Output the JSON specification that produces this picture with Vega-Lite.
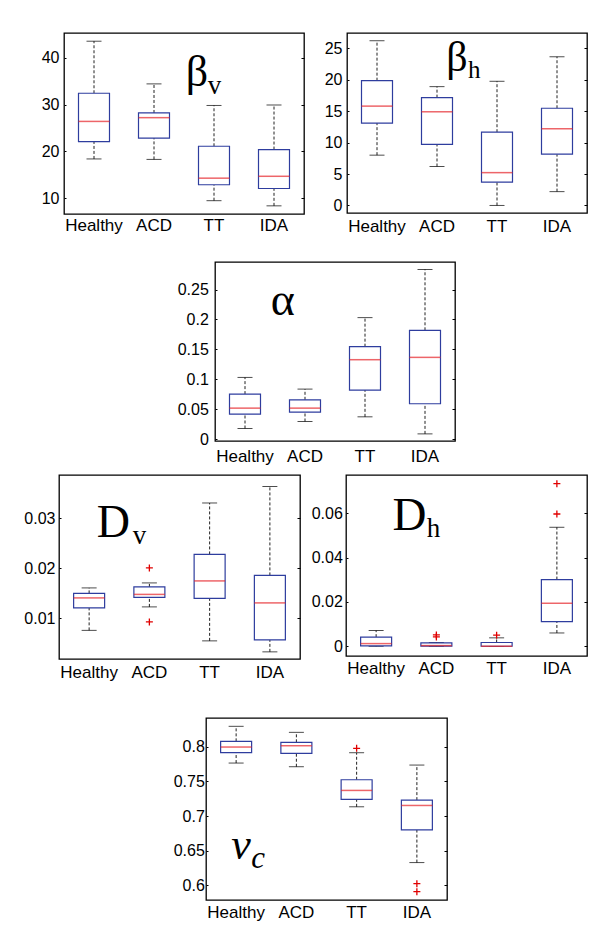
{
"$schema": "https://vega.github.io/schema/vega-lite/v6.json",
"background": "white",
"padding": {"left": 0, "top": 32, "right": 0, "bottom": 0},
"spacing": 0,
"datasets": {
"stats": [
{"p":"bv","cat":"Healthy","lo":18.4,"q1":22.1,"med":26.4,"q3":32.4,"hi":43.5},
{"p":"bv","cat":"ACD","lo":18.3,"q1":22.85,"med":27.2,"q3":28.2,"hi":34.4},
{"p":"bv","cat":"TT","lo":9.5,"q1":12.9,"med":14.3,"q3":21.1,"hi":29.8},
{"p":"bv","cat":"IDA","lo":8.4,"q1":12.1,"med":14.7,"q3":20.4,"hi":29.9},
{"p":"bh","cat":"Healthy","lo":8.0,"q1":13.1,"med":15.8,"q3":19.85,"hi":26.2},
{"p":"bh","cat":"ACD","lo":6.2,"q1":9.7,"med":14.9,"q3":17.15,"hi":18.9},
{"p":"bh","cat":"TT","lo":0,"q1":3.7,"med":5.22,"q3":11.65,"hi":19.75},
{"p":"bh","cat":"IDA","lo":2.2,"q1":8.15,"med":12.2,"q3":15.46,"hi":23.65},
{"p":"a","cat":"Healthy","lo":0.0179,"q1":0.0419,"med":0.0519,"q3":0.0753,"hi":0.1032},
{"p":"a","cat":"ACD","lo":0.0296,"q1":0.0452,"med":0.0519,"q3":0.0658,"hi":0.0837},
{"p":"a","cat":"TT","lo":0.0374,"q1":0.082,"med":0.1328,"q3":0.1546,"hi":0.2031},
{"p":"a","cat":"IDA","lo":0.0089,"q1":0.0592,"med":0.1367,"q3":0.1819,"hi":0.2835},
{"p":"dv","cat":"Healthy","lo":0.0076,"q1":0.0121,"med":0.0141,"q3":0.015,"hi":0.0161},
{"p":"dv","cat":"ACD","lo":0.0123,"q1":0.0142,"med":0.0148,"q3":0.0163,"hi":0.0171},
{"p":"dv","cat":"TT","lo":0.0055,"q1":0.014,"med":0.0175,"q3":0.0228,"hi":0.0331},
{"p":"dv","cat":"IDA","lo":0.0033,"q1":0.0057,"med":0.0131,"q3":0.0186,"hi":0.0364},
{"p":"dh","cat":"Healthy","lo":0,"q1":0.0002,"med":0.0012,"q3":0.0041,"hi":0.0071},
{"p":"dh","cat":"ACD","lo":0,"q1":0.0001,"med":0.0003,"q3":0.0015,"hi":0.0017},
{"p":"dh","cat":"TT","lo":0,"q1":0.0,"med":0.0,"q3":0.0017,"hi":0.0038},
{"p":"dh","cat":"IDA","lo":0.006,"q1":0.0111,"med":0.0194,"q3":0.0301,"hi":0.0537},
{"p":"vc","cat":"Healthy","lo":0.7764,"q1":0.7913,"med":0.7995,"q3":0.8077,"hi":0.8294},
{"p":"vc","cat":"ACD","lo":0.7711,"q1":0.7904,"med":0.8014,"q3":0.8063,"hi":0.8207},
{"p":"vc","cat":"TT","lo":0.7133,"q1":0.7239,"med":0.7369,"q3":0.7523,"hi":0.7913},
{"p":"vc","cat":"IDA","lo":0.6328,"q1":0.68,"med":0.7152,"q3":0.7229,"hi":0.7735}
],
"out": [
{"p":"dv","cat":"ACD","v":0.0201},
{"p":"dv","cat":"ACD","v":0.0093},
{"p":"dh","cat":"ACD","v":0.0051},
{"p":"dh","cat":"ACD","v":0.0042},
{"p":"dh","cat":"TT","v":0.005},
{"p":"dh","cat":"IDA","v":0.0734},
{"p":"dh","cat":"IDA","v":0.0597},
{"p":"vc","cat":"TT","v":0.7976},
{"p":"vc","cat":"IDA","v":0.6024},
{"p":"vc","cat":"IDA","v":0.5908}
],
"labels": [
{"p":"bv","m":"β","s":"v"},
{"p":"bh","m":"β","s":"h"},
{"p":"a","m":"α","s":""},
{"p":"dv","m":"D","s":"v"},
{"p":"dh","m":"D","s":"h"},
{"p":"vc","m":"v","s":"c"}
]
},
"vconcat": [
{"hconcat": [
{"width": 10, "height": 1, "data": {"values": []}, "mark": "point", "view": {"stroke": null}},
{
"width": 240, "height": 181,
"data": {"name": "stats"},
"transform": [{"filter": "datum.p === 'bv'"}],
"encoding": {"x": {"field": "cat", "type": "nominal", "scale": {"domain": ["Healthy","ACD","TT","IDA"], "paddingInner": 0, "paddingOuter": 0}, "axis": {"title": null, "labelPadding": 3.7, "minExtent": 46, "maxExtent": 46}}},
"layer": [
{"mark": {"type": "rule", "strokeDash": [3,2], "color": "#222", "strokeWidth": 1}, "encoding": {"y": {"field": "q3", "type": "quantitative", "scale": {"domain": [6.66,45.25], "nice": false, "zero": false}, "axis": null}, "y2": {"field": "hi"}}},
{"mark": {"type": "rule", "strokeDash": [3,2], "color": "#222", "strokeWidth": 1}, "encoding": {"y": {"field": "lo", "type": "quantitative", "scale": {"domain": [6.66,45.25], "nice": false, "zero": false}, "axis": null}, "y2": {"field": "q1"}}},
{"mark": {"type": "tick", "size": 15, "thickness": 1, "color": "#000"}, "encoding": {"y": {"field": "hi", "type": "quantitative", "scale": {"domain": [6.66,45.25], "nice": false, "zero": false}, "axis": null}}},
{"mark": {"type": "tick", "size": 15, "thickness": 1, "color": "#000"}, "encoding": {"y": {"field": "lo", "type": "quantitative", "scale": {"domain": [6.66,45.25], "nice": false, "zero": false}, "axis": null}}},
{"mark": {"type": "bar", "width": 31, "fill": "white", "stroke": "#2e3d9e", "strokeWidth": 1.2}, "encoding": {"y": {"field": "q1", "type": "quantitative", "scale": {"domain": [6.66,45.25], "nice": false, "zero": false}, "axis": {"orient": "left", "title": null, "values": [10,20,30,40], "format": "~r", "ticks": true, "tickSize": -2, "labelPadding": 7, "minExtent": 53, "maxExtent": 53}}, "y2": {"field": "q3"}}},
{"mark": {"type": "tick", "size": 31, "thickness": 1.5, "color": "#e5242a"}, "encoding": {"y": {"field": "med", "type": "quantitative", "scale": {"domain": [6.66,45.25], "nice": false, "zero": false}, "axis": {"orient": "right", "title": null, "values": [10,20,30,40], "labels": false, "ticks": true, "tickSize": -3, "minExtent": 0, "maxExtent": 0}}}},
{"data": {"name": "labels"}, "transform": [{"filter": "datum.p === 'bv'"}], "mark": {"type": "text", "font": "Liberation Serif", "fontSize": 44, "align": "left", "baseline": "alphabetic", "dx": 31.7, "color": "#000"}, "encoding": {"x": {"datum": "ACD", "type": "nominal", "axis": {"title": null, "labelPadding": 3.7, "minExtent": 46, "maxExtent": 46}}, "y": {"datum": 34, "type": "quantitative", "scale": {"domain": [6.66,45.25], "nice": false, "zero": false}, "axis": null}, "text": {"field": "m"}}},
{"data": {"name": "labels"}, "transform": [{"filter": "datum.p === 'bv'"}], "mark": {"type": "text", "font": "Liberation Serif", "fontSize": 27, "align": "left", "baseline": "alphabetic", "dx": 53.7, "dy": 8, "color": "#000"}, "encoding": {"x": {"datum": "ACD", "type": "nominal", "axis": {"title": null, "labelPadding": 3.7, "minExtent": 46, "maxExtent": 46}}, "y": {"datum": 34, "type": "quantitative", "scale": {"domain": [6.66,45.25], "nice": false, "zero": false}, "axis": null}, "text": {"field": "s"}}}
],
"resolve": {"axis": {"y": "independent"}}
},
{
"width": 240, "height": 180,
"data": {"name": "stats"},
"transform": [{"filter": "datum.p === 'bh'"}],
"encoding": {"x": {"field": "cat", "type": "nominal", "scale": {"domain": ["Healthy","ACD","TT","IDA"], "paddingInner": 0, "paddingOuter": 0}, "axis": {"title": null, "labelPadding": 5.5, "minExtent": 46, "maxExtent": 46}}},
"layer": [
{"mark": {"type": "rule", "strokeDash": [3,2], "color": "#222", "strokeWidth": 1}, "encoding": {"y": {"field": "q3", "type": "quantitative", "scale": {"domain": [-1.2,27.43], "nice": false, "zero": false}, "axis": null}, "y2": {"field": "hi"}}},
{"mark": {"type": "rule", "strokeDash": [3,2], "color": "#222", "strokeWidth": 1}, "encoding": {"y": {"field": "lo", "type": "quantitative", "scale": {"domain": [-1.2,27.43], "nice": false, "zero": false}, "axis": null}, "y2": {"field": "q1"}}},
{"mark": {"type": "tick", "size": 15, "thickness": 1, "color": "#000"}, "encoding": {"y": {"field": "hi", "type": "quantitative", "scale": {"domain": [-1.2,27.43], "nice": false, "zero": false}, "axis": null}}},
{"mark": {"type": "tick", "size": 15, "thickness": 1, "color": "#000"}, "encoding": {"y": {"field": "lo", "type": "quantitative", "scale": {"domain": [-1.2,27.43], "nice": false, "zero": false}, "axis": null}}},
{"mark": {"type": "bar", "width": 31, "fill": "white", "stroke": "#2e3d9e", "strokeWidth": 1.2}, "encoding": {"y": {"field": "q1", "type": "quantitative", "scale": {"domain": [-1.2,27.43], "nice": false, "zero": false}, "axis": {"orient": "left", "title": null, "values": [0,5,10,15,20,25], "format": "~r", "ticks": true, "tickSize": -2, "labelPadding": 7, "minExtent": 40, "maxExtent": 40}}, "y2": {"field": "q3"}}},
{"mark": {"type": "tick", "size": 31, "thickness": 1.5, "color": "#e5242a"}, "encoding": {"y": {"field": "med", "type": "quantitative", "scale": {"domain": [-1.2,27.43], "nice": false, "zero": false}, "axis": {"orient": "right", "title": null, "values": [0,5,10,15,20,25], "labels": false, "ticks": true, "tickSize": -3, "minExtent": 0, "maxExtent": 0}}}},
{"data": {"name": "labels"}, "transform": [{"filter": "datum.p === 'bh'"}], "mark": {"type": "text", "font": "Liberation Serif", "fontSize": 42, "align": "left", "baseline": "alphabetic", "dx": 9.3, "color": "#000"}, "encoding": {"x": {"datum": "ACD", "type": "nominal", "axis": {"title": null, "labelPadding": 5.5, "minExtent": 46, "maxExtent": 46}}, "y": {"datum": 21.36, "type": "quantitative", "scale": {"domain": [-1.2,27.43], "nice": false, "zero": false}, "axis": null}, "text": {"field": "m"}}},
{"data": {"name": "labels"}, "transform": [{"filter": "datum.p === 'bh'"}], "mark": {"type": "text", "font": "Liberation Serif", "fontSize": 25, "align": "left", "baseline": "alphabetic", "dx": 31, "dy": 6.8, "color": "#000"}, "encoding": {"x": {"datum": "ACD", "type": "nominal", "axis": {"title": null, "labelPadding": 5.5, "minExtent": 46, "maxExtent": 46}}, "y": {"datum": 21.36, "type": "quantitative", "scale": {"domain": [-1.2,27.43], "nice": false, "zero": false}, "axis": null}, "text": {"field": "s"}}}
],
"resolve": {"axis": {"y": "independent"}}
}
], "spacing": 0},
{"hconcat": [
{"width": 10, "height": 1, "data": {"values": []}, "mark": "point", "view": {"stroke": null}},
{
"width": 240, "height": 179,
"data": {"name": "stats"},
"transform": [{"filter": "datum.p === 'a'"}],
"encoding": {"x": {"field": "cat", "type": "nominal", "scale": {"domain": ["Healthy","ACD","TT","IDA"], "paddingInner": 0, "paddingOuter": 0}, "axis": {"title": null, "labelPadding": 7.5, "minExtent": 32, "maxExtent": 32}}},
"layer": [
{"mark": {"type": "rule", "strokeDash": [3,2], "color": "#222", "strokeWidth": 1}, "encoding": {"y": {"field": "q3", "type": "quantitative", "scale": {"domain": [-0.003,0.296], "nice": false, "zero": false}, "axis": null}, "y2": {"field": "hi"}}},
{"mark": {"type": "rule", "strokeDash": [3,2], "color": "#222", "strokeWidth": 1}, "encoding": {"y": {"field": "lo", "type": "quantitative", "scale": {"domain": [-0.003,0.296], "nice": false, "zero": false}, "axis": null}, "y2": {"field": "q1"}}},
{"mark": {"type": "tick", "size": 15, "thickness": 1, "color": "#000"}, "encoding": {"y": {"field": "hi", "type": "quantitative", "scale": {"domain": [-0.003,0.296], "nice": false, "zero": false}, "axis": null}}},
{"mark": {"type": "tick", "size": 15, "thickness": 1, "color": "#000"}, "encoding": {"y": {"field": "lo", "type": "quantitative", "scale": {"domain": [-0.003,0.296], "nice": false, "zero": false}, "axis": null}}},
{"mark": {"type": "bar", "width": 31, "fill": "white", "stroke": "#2e3d9e", "strokeWidth": 1.2}, "encoding": {"y": {"field": "q1", "type": "quantitative", "scale": {"domain": [-0.003,0.296], "nice": false, "zero": false}, "axis": {"orient": "left", "title": null, "values": [0,0.05,0.1,0.15,0.2,0.25], "format": "~r", "ticks": true, "tickSize": -2, "labelPadding": 8.7, "minExtent": 204, "maxExtent": 204}}, "y2": {"field": "q3"}}},
{"mark": {"type": "tick", "size": 31, "thickness": 1.5, "color": "#e5242a"}, "encoding": {"y": {"field": "med", "type": "quantitative", "scale": {"domain": [-0.003,0.296], "nice": false, "zero": false}, "axis": {"orient": "right", "title": null, "values": [0,0.05,0.1,0.15,0.2,0.25], "labels": false, "ticks": true, "tickSize": -3, "minExtent": 0, "maxExtent": 0}}}},
{"data": {"name": "labels"}, "transform": [{"filter": "datum.p === 'a'"}], "mark": {"type": "text", "font": "Liberation Serif", "fontSize": 46, "align": "left", "baseline": "alphabetic", "dx": 25.7, "color": "#000"}, "encoding": {"x": {"datum": "Healthy", "type": "nominal", "axis": {"title": null, "labelPadding": 7.5, "minExtent": 32, "maxExtent": 32}}, "y": {"datum": 0.2081, "type": "quantitative", "scale": {"domain": [-0.003,0.296], "nice": false, "zero": false}, "axis": null}, "text": {"field": "m"}}}
],
"resolve": {"axis": {"y": "independent"}}
}
], "spacing": 0},
{"hconcat": [
{"width": 10, "height": 1, "data": {"values": []}, "mark": "point", "view": {"stroke": null}},
{
"width": 241, "height": 184,
"data": {"name": "stats"},
"transform": [{"filter": "datum.p === 'dv'"}],
"encoding": {"x": {"field": "cat", "type": "nominal", "scale": {"domain": ["Healthy","ACD","TT","IDA"], "paddingInner": 0, "paddingOuter": 0}, "axis": {"title": null, "labelPadding": 5.5, "minExtent": 57, "maxExtent": 57}}},
"layer": [
{"mark": {"type": "rule", "strokeDash": [3,2], "color": "#222", "strokeWidth": 1}, "encoding": {"y": {"field": "q3", "type": "quantitative", "scale": {"domain": [0.00187,0.0387], "nice": false, "zero": false}, "axis": null}, "y2": {"field": "hi"}}},
{"mark": {"type": "rule", "strokeDash": [3,2], "color": "#222", "strokeWidth": 1}, "encoding": {"y": {"field": "lo", "type": "quantitative", "scale": {"domain": [0.00187,0.0387], "nice": false, "zero": false}, "axis": null}, "y2": {"field": "q1"}}},
{"mark": {"type": "tick", "size": 15, "thickness": 1, "color": "#000"}, "encoding": {"y": {"field": "hi", "type": "quantitative", "scale": {"domain": [0.00187,0.0387], "nice": false, "zero": false}, "axis": null}}},
{"mark": {"type": "tick", "size": 15, "thickness": 1, "color": "#000"}, "encoding": {"y": {"field": "lo", "type": "quantitative", "scale": {"domain": [0.00187,0.0387], "nice": false, "zero": false}, "axis": null}}},
{"mark": {"type": "bar", "width": 31, "fill": "white", "stroke": "#2e3d9e", "strokeWidth": 1.2}, "encoding": {"y": {"field": "q1", "type": "quantitative", "scale": {"domain": [0.00187,0.0387], "nice": false, "zero": false}, "axis": {"orient": "left", "title": null, "values": [0.01,0.02,0.03], "format": "~r", "ticks": true, "tickSize": -2, "labelPadding": 6, "minExtent": 48, "maxExtent": 48}}, "y2": {"field": "q3"}}},
{"mark": {"type": "tick", "size": 31, "thickness": 1.5, "color": "#e5242a"}, "encoding": {"y": {"field": "med", "type": "quantitative", "scale": {"domain": [0.00187,0.0387], "nice": false, "zero": false}, "axis": {"orient": "right", "title": null, "values": [0.01,0.02,0.03], "labels": false, "ticks": true, "tickSize": -3, "minExtent": 0, "maxExtent": 0}}}},
{"data": {"name": "out"}, "transform": [{"filter": "datum.p === 'dv'"}], "mark": {"type": "point", "shape": "M-1,0L1,0M0,-1L0,1", "size": 49, "filled": false, "stroke": "#e00000", "strokeWidth": 1.3, "opacity": 1}, "encoding": {"y": {"field": "v", "type": "quantitative", "scale": {"domain": [0.00187,0.0387], "nice": false, "zero": false}, "axis": null}}},
{"data": {"name": "labels"}, "transform": [{"filter": "datum.p === 'dv'"}], "mark": {"type": "text", "font": "Liberation Serif", "fontSize": 46, "align": "left", "baseline": "alphabetic", "dx": 7.7, "color": "#000"}, "encoding": {"x": {"datum": "Healthy", "type": "nominal", "axis": {"title": null, "labelPadding": 5.5, "minExtent": 57, "maxExtent": 57}}, "y": {"datum": 0.0263, "type": "quantitative", "scale": {"domain": [0.00187,0.0387], "nice": false, "zero": false}, "axis": null}, "text": {"field": "m"}}},
{"data": {"name": "labels"}, "transform": [{"filter": "datum.p === 'dv'"}], "mark": {"type": "text", "font": "Liberation Serif", "fontSize": 27, "align": "left", "baseline": "alphabetic", "dx": 43.7, "dy": 7.3, "color": "#000"}, "encoding": {"x": {"datum": "Healthy", "type": "nominal", "axis": {"title": null, "labelPadding": 5.5, "minExtent": 57, "maxExtent": 57}}, "y": {"datum": 0.0263, "type": "quantitative", "scale": {"domain": [0.00187,0.0387], "nice": false, "zero": false}, "axis": null}, "text": {"field": "s"}}}
],
"resolve": {"axis": {"y": "independent"}}
},
{
"width": 241, "height": 181,
"data": {"name": "stats"},
"transform": [{"filter": "datum.p === 'dh'"}],
"encoding": {"x": {"field": "cat", "type": "nominal", "scale": {"domain": ["Healthy","ACD","TT","IDA"], "paddingInner": 0, "paddingOuter": 0}, "axis": {"title": null, "labelPadding": 4, "minExtent": 57, "maxExtent": 57}}},
"layer": [
{"mark": {"type": "rule", "strokeDash": [3,2], "color": "#222", "strokeWidth": 1}, "encoding": {"y": {"field": "q3", "type": "quantitative", "scale": {"domain": [-0.0044,0.0773], "nice": false, "zero": false}, "axis": null}, "y2": {"field": "hi"}}},
{"mark": {"type": "rule", "strokeDash": [3,2], "color": "#222", "strokeWidth": 1}, "encoding": {"y": {"field": "lo", "type": "quantitative", "scale": {"domain": [-0.0044,0.0773], "nice": false, "zero": false}, "axis": null}, "y2": {"field": "q1"}}},
{"mark": {"type": "tick", "size": 15, "thickness": 1, "color": "#000"}, "encoding": {"y": {"field": "hi", "type": "quantitative", "scale": {"domain": [-0.0044,0.0773], "nice": false, "zero": false}, "axis": null}}},
{"mark": {"type": "tick", "size": 15, "thickness": 1, "color": "#000"}, "encoding": {"y": {"field": "lo", "type": "quantitative", "scale": {"domain": [-0.0044,0.0773], "nice": false, "zero": false}, "axis": null}}},
{"mark": {"type": "bar", "width": 31, "fill": "white", "stroke": "#2e3d9e", "strokeWidth": 1.2}, "encoding": {"y": {"field": "q1", "type": "quantitative", "scale": {"domain": [-0.0044,0.0773], "nice": false, "zero": false}, "axis": {"orient": "left", "title": null, "values": [0,0.02,0.04,0.06], "format": "~r", "ticks": true, "tickSize": -2, "labelPadding": 5.7, "minExtent": 43, "maxExtent": 43}}, "y2": {"field": "q3"}}},
{"mark": {"type": "tick", "size": 31, "thickness": 1.5, "color": "#e5242a"}, "encoding": {"y": {"field": "med", "type": "quantitative", "scale": {"domain": [-0.0044,0.0773], "nice": false, "zero": false}, "axis": {"orient": "right", "title": null, "values": [0,0.02,0.04,0.06], "labels": false, "ticks": true, "tickSize": -3, "minExtent": 0, "maxExtent": 0}}}},
{"data": {"name": "out"}, "transform": [{"filter": "datum.p === 'dh'"}], "mark": {"type": "point", "shape": "M-1,0L1,0M0,-1L0,1", "size": 49, "filled": false, "stroke": "#e00000", "strokeWidth": 1.3, "opacity": 1}, "encoding": {"y": {"field": "v", "type": "quantitative", "scale": {"domain": [-0.0044,0.0773], "nice": false, "zero": false}, "axis": null}}},
{"data": {"name": "labels"}, "transform": [{"filter": "datum.p === 'dh'"}], "mark": {"type": "text", "font": "Liberation Serif", "fontSize": 47, "align": "left", "baseline": "alphabetic", "dx": 16.3, "color": "#000"}, "encoding": {"x": {"datum": "Healthy", "type": "nominal", "axis": {"title": null, "labelPadding": 4, "minExtent": 57, "maxExtent": 57}}, "y": {"datum": 0.0525, "type": "quantitative", "scale": {"domain": [-0.0044,0.0773], "nice": false, "zero": false}, "axis": null}, "text": {"field": "m"}}},
{"data": {"name": "labels"}, "transform": [{"filter": "datum.p === 'dh'"}], "mark": {"type": "text", "font": "Liberation Serif", "fontSize": 27, "align": "left", "baseline": "alphabetic", "dx": 50.6, "dy": 6.7, "color": "#000"}, "encoding": {"x": {"datum": "Healthy", "type": "nominal", "axis": {"title": null, "labelPadding": 4, "minExtent": 57, "maxExtent": 57}}, "y": {"datum": 0.0525, "type": "quantitative", "scale": {"domain": [-0.0044,0.0773], "nice": false, "zero": false}, "axis": null}, "text": {"field": "s"}}}
],
"resolve": {"axis": {"y": "independent"}}
}
], "spacing": 0},
{"hconcat": [
{"width": 10, "height": 1, "data": {"values": []}, "mark": "point", "view": {"stroke": null}},
{
"width": 241, "height": 182,
"data": {"name": "stats"},
"transform": [{"filter": "datum.p === 'vc'"}],
"encoding": {"x": {"field": "cat", "type": "nominal", "scale": {"domain": ["Healthy","ACD","TT","IDA"], "paddingInner": 0, "paddingOuter": 0}, "axis": {"title": null, "labelPadding": 4.5, "minExtent": 35, "maxExtent": 35}}},
"layer": [
{"mark": {"type": "rule", "strokeDash": [3,2], "color": "#222", "strokeWidth": 1}, "encoding": {"y": {"field": "q3", "type": "quantitative", "scale": {"domain": [0.5788,0.8414], "nice": false, "zero": false}, "axis": null}, "y2": {"field": "hi"}}},
{"mark": {"type": "rule", "strokeDash": [3,2], "color": "#222", "strokeWidth": 1}, "encoding": {"y": {"field": "lo", "type": "quantitative", "scale": {"domain": [0.5788,0.8414], "nice": false, "zero": false}, "axis": null}, "y2": {"field": "q1"}}},
{"mark": {"type": "tick", "size": 15, "thickness": 1, "color": "#000"}, "encoding": {"y": {"field": "hi", "type": "quantitative", "scale": {"domain": [0.5788,0.8414], "nice": false, "zero": false}, "axis": null}}},
{"mark": {"type": "tick", "size": 15, "thickness": 1, "color": "#000"}, "encoding": {"y": {"field": "lo", "type": "quantitative", "scale": {"domain": [0.5788,0.8414], "nice": false, "zero": false}, "axis": null}}},
{"mark": {"type": "bar", "width": 31, "fill": "white", "stroke": "#2e3d9e", "strokeWidth": 1.2}, "encoding": {"y": {"field": "q1", "type": "quantitative", "scale": {"domain": [0.5788,0.8414], "nice": false, "zero": false}, "axis": {"orient": "left", "title": null, "values": [0.6,0.65,0.7,0.75,0.8], "format": "~r", "ticks": true, "tickSize": -2, "labelPadding": 3.7, "minExtent": 195, "maxExtent": 195}}, "y2": {"field": "q3"}}},
{"mark": {"type": "tick", "size": 31, "thickness": 1.5, "color": "#e5242a"}, "encoding": {"y": {"field": "med", "type": "quantitative", "scale": {"domain": [0.5788,0.8414], "nice": false, "zero": false}, "axis": {"orient": "right", "title": null, "values": [0.6,0.65,0.7,0.75,0.8], "labels": false, "ticks": true, "tickSize": -3, "minExtent": 0, "maxExtent": 0}}}},
{"data": {"name": "out"}, "transform": [{"filter": "datum.p === 'vc'"}], "mark": {"type": "point", "shape": "M-1,0L1,0M0,-1L0,1", "size": 49, "filled": false, "stroke": "#e00000", "strokeWidth": 1.3, "opacity": 1}, "encoding": {"y": {"field": "v", "type": "quantitative", "scale": {"domain": [0.5788,0.8414], "nice": false, "zero": false}, "axis": null}}},
{"data": {"name": "labels"}, "transform": [{"filter": "datum.p === 'vc'"}], "mark": {"type": "text", "font": "Liberation Serif", "fontStyle": "italic", "fontSize": 44, "align": "left", "baseline": "alphabetic", "dx": -5, "color": "#000"}, "encoding": {"x": {"datum": "Healthy", "type": "nominal", "axis": {"title": null, "labelPadding": 4.5, "minExtent": 35, "maxExtent": 35}}, "y": {"datum": 0.6376, "type": "quantitative", "scale": {"domain": [0.5788,0.8414], "nice": false, "zero": false}, "axis": null}, "text": {"field": "m"}}},
{"data": {"name": "labels"}, "transform": [{"filter": "datum.p === 'vc'"}], "mark": {"type": "text", "font": "Liberation Serif", "fontStyle": "italic", "fontSize": 31, "align": "left", "baseline": "alphabetic", "dx": 15, "dy": 8.4, "color": "#000"}, "encoding": {"x": {"datum": "Healthy", "type": "nominal", "axis": {"title": null, "labelPadding": 4.5, "minExtent": 35, "maxExtent": 35}}, "y": {"datum": 0.6376, "type": "quantitative", "scale": {"domain": [0.5788,0.8414], "nice": false, "zero": false}, "axis": null}, "text": {"field": "s"}}}
],
"resolve": {"axis": {"y": "independent"}}
}
], "spacing": 0}
],
"config": {
"view": {"stroke": "#000", "strokeWidth": 1.3},
"axis": {"labelFont": "Liberation Sans", "labelFontSize": 16, "labelColor": "#000", "grid": false, "domain": false, "tickColor": "#000", "tickWidth": 1},
"axisX": {"ticks": false, "labelAngle": 0, "labelFontSize": 17}
}
}
